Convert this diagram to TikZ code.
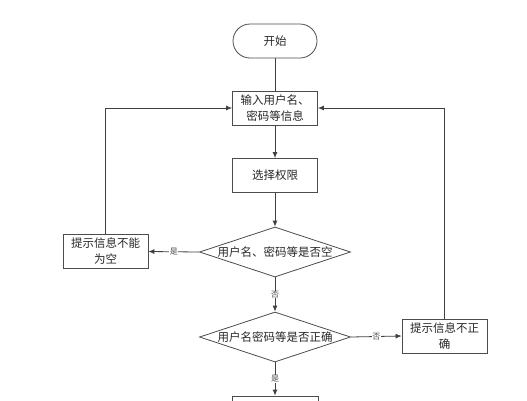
\documentclass[tikz,border=0pt]{standalone}
\usepackage{fontspec}
\setmainfont{Noto Sans CJK SC}
\usetikzlibrary{shapes.geometric,arrows.meta}
\begin{document}
\begin{tikzpicture}[x=1pt,y=-1pt,
  every node/.style={font=\fontsize{11.5}{16}\selectfont, text=black!85},
  box/.style={draw=black!70, line width=0.8pt, rectangle, minimum width=85pt, minimum height=34pt, inner sep=0pt, align=center},
  term/.style={draw=black!70, line width=0.8pt, rectangle, rounded corners=17pt, minimum width=84pt, minimum height=34pt, inner sep=0pt},
  dec/.style={draw=black!70, line width=0.8pt, diamond, aspect=3, minimum width=151pt, minimum height=50pt, inner sep=0pt},
  conn/.style={draw=black!75, line width=0.8pt},
  arr/.style={conn, -{Latex[length=6pt,width=5pt]}},
  lbl/.style={font=\fontsize{8}{9}\selectfont, fill=white, inner sep=0.5pt, text=black!70}
]
\useasboundingbox (0,0) rectangle (527,400);
\clip (0,0) rectangle (527,400);
\node[term] (start) at (275,41) {开始};
\node[box] (in) at (275,108) {输入用户名、\\密码等信息};
\node[box] (sel) at (275,175.5) {选择权限};
\node[dec] (d1) at (275,252) {用户名、密码等是否空};
\node[box] (empty) at (105.5,251.5) {提示信息不能\\为空};
\node[dec] (d2) at (275,337) {用户名密码等是否正确};
\node[box] (wrong) at (444.5,336) {提示信息不正\\确};
\node[box, minimum width=86pt] (next) at (275,413) {};
\draw[conn] (start) -- (in);
\draw[arr] (in) -- (sel);
\draw[arr] (sel) -- (d1);
\draw[arr] (d1.west) -- node[lbl] {是} (empty.east);
\draw[arr] (d1.south) -- node[lbl] {否} (d2.north);
\draw[arr] (d2.east) -- node[lbl] {否} (wrong.west);
\draw[arr] (d2.south) -- node[lbl] {是} (next.north);
\draw[arr] (empty.north) |- (in.west);
\draw[arr] (wrong.north) |- (in.east);
\end{tikzpicture}
\end{document}
